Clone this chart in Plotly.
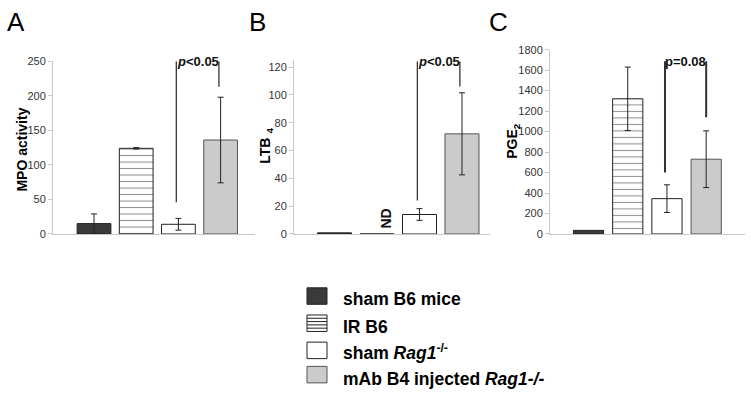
import plotly.graph_objects as go

# groups (same order in every panel)
groups = ["sham B6 mice", "IR B6", "sham <i>Rag1</i><sup>-/-</sup>", "mAb B4 injected <i>Rag1-/-</i>"]
cats = [0, 1, 2, 3]

# panel A: MPO activity
mpo = [15, 124, 14, 136]
mpo_err = [14, 1, 8.5, 62]
# panel B: LTB4 (IR B6 not detected)
ltb4 = [0.8, 0, 14, 72]
ltb4_err = [0, 0, 4.2, 29.5]
# panel C: PGE2
pge2 = [35, 1320, 345, 730]
pge2_err = [0, 310, 135, 277]

fills = ["#3a3a3a", "white", "white", "#cbcbcb"]
lines = ["#222222", "#222222", "#222222", "#555555"]
patterns = ["", "-", "", ""]

fig = go.Figure()

panels = [
    # xaxis, yaxis, values, errors, bar width
    ("x", "y", mpo, mpo_err, 0.8),
    ("x2", "y2", ltb4, ltb4_err, 0.8),
    ("x3", "y3", pge2, pge2_err, 0.77),
]
for xa, ya, vals, errs, bw in panels:
    for i in range(4):
        fig.add_trace(go.Bar(
            x=[cats[i]], y=[vals[i]], width=bw, xaxis=xa, yaxis=ya,
            marker=dict(color=fills[i], line=dict(color=lines[i], width=1),
                        pattern=dict(shape=patterns[i], fgcolor="#222222", bgcolor="white",
                                     size=6.5, solidity=0.16)),
            error_y=dict(type="data", array=[errs[i]], visible=errs[i] > 0,
                         color="#222222", thickness=1, width=3),
            showlegend=False, hoverinfo="skip",
        ))

tickfont = dict(family="Liberation Sans, Arial", size=11, color="#333333")
ybase = dict(showline=True, linecolor="#c8c8c8", linewidth=1, ticks="outside",
             ticklen=4, tickcolor="#c8c8c8", showgrid=False, zeroline=False,
             tickfont=tickfont)
xbase = dict(showline=True, linecolor="#c8c8c8", linewidth=1, showticklabels=False,
             ticks="", showgrid=False, zeroline=False)

W, H = 751, 401
fig.update_layout(
    width=W, height=H, margin=dict(l=0, r=0, t=0, b=0),
    paper_bgcolor="white", plot_bgcolor="white", barmode="overlay",
    xaxis=dict(xbase, domain=[53 / W, 255 / W], range=[-0.972, 3.815]),
    yaxis=dict(ybase, domain=[1 - 235 / H, 1 - 57 / H], range=[0, 250], tickvals=[0, 50, 100, 150, 200, 250]),
    xaxis2=dict(xbase, domain=[294 / W, 490 / W], range=[-0.953, 3.659], anchor="y2"),
    yaxis2=dict(ybase, domain=[1 - 235 / H, 1 - 55.8 / H], range=[0, 125], anchor="x2",
                tickvals=[0, 20, 40, 60, 80, 100, 120]),
    xaxis3=dict(xbase, domain=[550 / W, 745 / W], range=[-0.982, 3.99], anchor="y3"),
    yaxis3=dict(ybase, domain=[1 - 235 / H, 1 - 45 / H], range=[0, 1800], anchor="x3",
                tickvals=list(range(0, 1801, 200))),
)

# significance brackets
sig = [
    ("x", "y", 1.95, 46, 2.96, 213, 250, "<i>p</i><0.05", 1.3),
    ("x2", "y2", 1.95, 24, 2.95, 106, 124, "<i>p</i><0.05", 1.3),
    ("x3", "y3", 1.95, 600, 3.0, 1140, 1686, "p=0.08", 2),
]
for xa, ya, xl, yl, xr, yr, top, txt, lw in sig:
    for xx, yy in [(xl, yl), (xr, yr)]:
        fig.add_shape(type="line", xref=xa, yref=ya, x0=xx, x1=xx, y0=yy, y1=top,
                      line=dict(color="#333333", width=lw))
    fig.add_annotation(xref=xa, yref=ya, x=(xl + xr) / 2, y=top, text="<b>" + txt + "</b>",
                       showarrow=False, xanchor="center", yanchor="middle",
                       font=dict(family="Liberation Sans, Arial", size=13, color="#111111"))

# ND label for IR B6 in panel B
fig.add_annotation(xref="x2", yref="y2", x=1.21, y=11, text="<b>ND</b>", textangle=-90,
                   showarrow=False, xanchor="center", yanchor="middle",
                   font=dict(family="Liberation Sans, Arial", size=14, color="#111111"))

# panel letters
for lx, letter in [(16, "A"), (257, "B"), (499, "C")]:
    fig.add_annotation(xref="paper", yref="paper", x=lx / W, y=1 - 16 / H, text=letter,
                       showarrow=False, xanchor="center", yanchor="middle",
                       font=dict(family="Liberation Sans, Arial", size=26, color="black"))

# y-axis titles
titles = [(22, 148, "MPO activity"), (266, 144, "LTB <sub>4</sub>"), (513, 139, "PGE<sub>2</sub>")]
for tx, ty, t in titles:
    fig.add_annotation(xref="paper", yref="paper", x=tx / W, y=1 - ty / H, text="<b>" + t + "</b>",
                       textangle=-90, showarrow=False, xanchor="center", yanchor="middle",
                       font=dict(family="Liberation Sans, Arial", size=14, color="black"))

# legend drawn by hand
box_rows = [299, 327, 355, 380]
text_rows = [302, 331, 357, 384]
for i, ry in enumerate(box_rows):
    x0, x1 = 307 / W, 327 / W
    y0, y1 = 1 - (ry + 8.5) / H, 1 - (ry - 8.5) / H
    fig.add_shape(type="rect", xref="paper", yref="paper", x0=x0, x1=x1, y0=y0, y1=y1,
                  fillcolor=fills[i], line=dict(color=lines[i], width=1))
    if patterns[i] == "-":
        for k in range(1, 5):
            yy = y0 + (y1 - y0) * k / 5
            fig.add_shape(type="line", xref="paper", yref="paper", x0=x0, x1=x1, y0=yy, y1=yy,
                          line=dict(color="#222222", width=1))
    fig.add_annotation(xref="paper", yref="paper", x=341 / W, y=1 - text_rows[i] / H,
                       xanchor="left", yanchor="middle",
                       text="<b>" + groups[i] + "</b>", showarrow=False,
                       font=dict(family="Liberation Sans, Arial", size=17.5, color="black"))

fig.write_html("out.html", config={"displayModeBar": False},
               post_script="document.body.style.margin='0px';")
